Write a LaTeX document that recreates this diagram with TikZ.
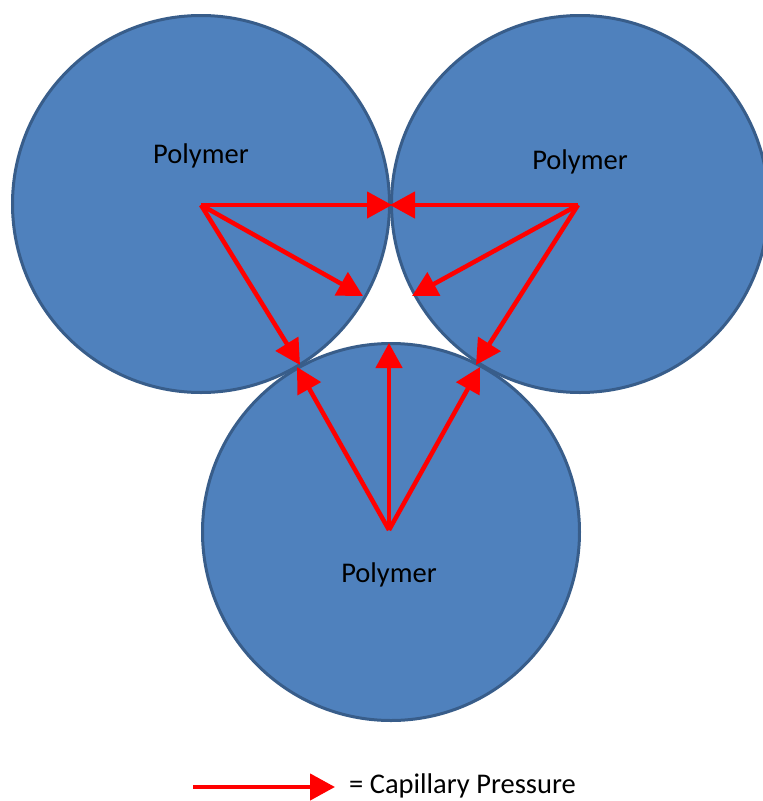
\documentclass[tikz,border=0pt]{standalone}
\usepackage{fontspec}
\setmainfont{Carlito}
\usetikzlibrary{arrows.meta}
\definecolor{polyfill}{HTML}{4F81BD}
\definecolor{polyline}{HTML}{385D8A}
\definecolor{capred}{HTML}{FF0000}
\tikzset{
  polymer/.style={circle, draw=polyline, fill=polyfill, line width=3pt, minimum size=377pt, inner sep=0pt},
  lbl/.style={font=\fontsize{28.5}{33}\selectfont, inner sep=0pt},
  caparrow/.style={draw=capred, line width=4.5pt, -{Triangle[length=25pt,width=26pt]}}
}
\begin{document}
\begin{tikzpicture}[x=1pt,y=-1pt]
\useasboundingbox (0,0) rectangle (763,801);
\node[polymer] (L) at (201,204) {};
\node[polymer] (R) at (580,204) {};
\node[polymer] (B) at (391,532) {};
\node[lbl] (tL) at (201,156) {Polymer};
\node[lbl] (tR) at (580,162) {Polymer};
\node[lbl] (tB) at (389,575) {Polymer};
\coordinate (oL) at (201,205);
\coordinate (oR) at (578,205);
\coordinate (oB) at (389,530);
\coordinate (cLR1) at (392,205);
\coordinate (cLR2) at (390,205);
\coordinate (mL) at (363,296);
\coordinate (mR) at (412,296);
\coordinate (cLB1) at (300,365);
\coordinate (cLB2) at (297,367);
\coordinate (cRB1) at (476,365);
\coordinate (cRB2) at (480,367);
\coordinate (mB) at (389,343);
\draw[caparrow] (oL) -- (cLR1);
\draw[caparrow] (oL) -- (mL);
\draw[caparrow] (oL) -- (cLB1);
\draw[caparrow] (oR) -- (cLR2);
\draw[caparrow] (oR) -- (mR);
\draw[caparrow] (oR) -- (cRB1);
\draw[caparrow] (oB) -- (mB);
\draw[caparrow] (oB) -- (cLB2);
\draw[caparrow] (oB) -- (cRB2);
\coordinate (k1) at (193,787);
\coordinate (k2) at (335,787);
\draw[caparrow] (k1) -- (k2);
\node[lbl, anchor=west] (key) at (349,786) {= Capillary Pressure};
\end{tikzpicture}
\end{document}
